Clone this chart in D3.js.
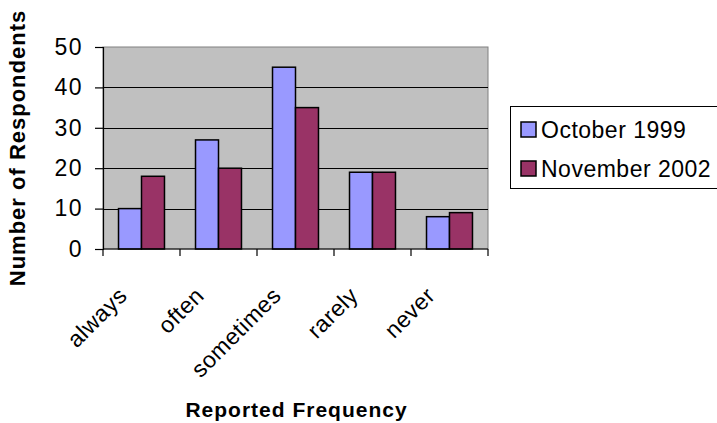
<!DOCTYPE html>
<html>
<head>
<meta charset="utf-8">
<script src="https://cdn.jsdelivr.net/npm/d3@7/dist/d3.min.js"></script>
<style>
  html, body { margin: 0; padding: 0; background: #fff; }
  svg { display: block; }
  text { font-family: "Liberation Sans", Arial, sans-serif; fill: #000; }
</style>
</head>
<body>
<svg id="chart" width="717" height="423"></svg>
<script>
const categories = ["always", "often", "sometimes", "rarely", "never"];
const seriesNames = ["October 1999", "November 2002"];
const october1999 = [10, 27, 45, 19, 8];
const november2002 = [18, 20, 35, 19, 9];
const yTicks = [0, 10, 20, 30, 40, 50];
const colors = ["#9999FF", "#993366"];

const svg = d3.select("#chart");
const margin = { left: 103, top: 47, right: 229, bottom: 174 };
const W = 717, H = 423;
const pw = W - margin.left - margin.right;   // 385
const ph = H - margin.top - margin.bottom;   // 202

const x = d3.scaleBand().domain(categories).range([margin.left, margin.left + pw]).padding(0);
const xs = d3.scaleBand().domain(seriesNames).range([0, x.bandwidth()]).paddingInner(0).paddingOuter(0.675);
const y = d3.scaleLinear().domain([0, 50]).range([margin.top + ph, margin.top]);

// plot area background
svg.append("rect")
  .attr("x", margin.left).attr("y", margin.top)
  .attr("width", pw).attr("height", ph)
  .attr("fill", "#C0C0C0").attr("stroke", "#808080").attr("stroke-width", 1);

// gridlines
svg.append("g").selectAll("line")
  .data(yTicks.filter(d => d > 0 && d < 50))
  .join("line")
  .attr("x1", margin.left).attr("x2", margin.left + pw)
  .attr("y1", d => Math.round(y(d)) + 0.5).attr("y2", d => Math.round(y(d)) + 0.5)
  .attr("stroke", "#000").attr("stroke-width", 1);

// bars
const series = [october1999, november2002];
series.forEach((vals, si) => {
  svg.append("g").selectAll("rect")
    .data(categories.map((c, i) => ({ c, v: vals[i] })))
    .join("rect")
    .attr("x", d => x(d.c) + xs(seriesNames[si]))
    .attr("y", d => y(d.v))
    .attr("width", xs.bandwidth())
    .attr("height", d => y(0) - y(d.v))
    .attr("fill", colors[si])
    .attr("stroke", "#000")
    .attr("stroke-width", 1.5);
});

// y axis
const yAxis = d3.axisLeft(y).tickValues(yTicks).tickSize(8).tickPadding(12).tickFormat(d3.format("d"));
const gy = svg.append("g").attr("transform", `translate(${margin.left},0)`).call(yAxis);
gy.select(".domain").attr("stroke", "#000").attr("stroke-width", 1.2);
gy.selectAll(".tick line").attr("stroke", "#000").attr("stroke-width", 1.2);
gy.selectAll(".tick text")
  .style("font-size", "23px").style("letter-spacing", "1.5px")
  .style("font-family", "Liberation Sans, Arial, sans-serif").attr("fill", "#000");

// x axis line and boundary ticks
const gx = svg.append("g");
gx.append("line")
  .attr("x1", margin.left).attr("x2", margin.left + pw)
  .attr("y1", y(0)).attr("y2", y(0))
  .attr("stroke", "#000").attr("stroke-width", 1.2);
const bounds = categories.map(c => x(c)).concat([x(categories[categories.length - 1]) + x.bandwidth()]);
gx.selectAll("line.tk").data(bounds).join("line").attr("class", "tk")
  .attr("x1", d => d).attr("x2", d => d)
  .attr("y1", y(0)).attr("y2", y(0) + 7)
  .attr("stroke", "#000").attr("stroke-width", 1.2);

// x labels rotated
gx.selectAll("text.xl").data(categories).join("text").attr("class", "xl")
  .attr("transform", d => `translate(${x(d) + x.bandwidth() / 2 - 13},${y(0) + 48}) rotate(-45)`)
  .attr("text-anchor", "end")
  .style("font-size", "23px").style("letter-spacing", "0.5px")
  .text(d => d);

// axis titles
svg.append("text")
  .attr("transform", `translate(25,${margin.top + ph / 2}) rotate(-90)`)
  .attr("text-anchor", "middle")
  .style("font-size", "22px").style("font-weight", "bold").style("letter-spacing", "1px")
  .text("Number of Respondents");

svg.append("text")
  .attr("x", margin.left + pw / 2 + 1).attr("y", 417)
  .attr("text-anchor", "middle")
  .style("font-size", "21px").style("font-weight", "bold").style("letter-spacing", "1px")
  .text("Reported Frequency");

// legend
const lg = svg.append("g");
lg.append("rect")
  .attr("x", 510.5).attr("y", 106.5).attr("width", 230).attr("height", 82)
  .attr("fill", "#fff").attr("stroke", "#000").attr("stroke-width", 1);
const legY = [129.5, 168.5];
seriesNames.forEach((s, i) => {
  lg.append("rect")
    .attr("x", 521).attr("y", legY[i] - 7.5).attr("width", 15).attr("height", 15)
    .attr("fill", colors[i]).attr("stroke", "#000").attr("stroke-width", 1.5);
  lg.append("text")
    .attr("x", 541).attr("y", legY[i] + 8)
    .style("font-size", "23px").style("letter-spacing", "0.5px")
    .text(s);
});
</script>
</body>
</html>
